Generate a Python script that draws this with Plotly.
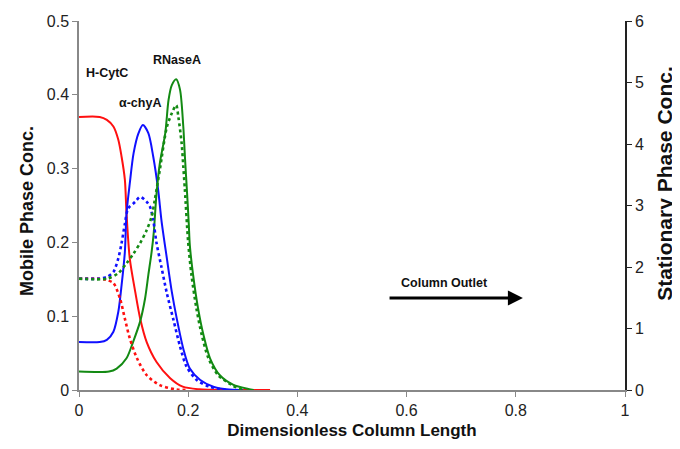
import plotly.graph_objects as go

# ---- data (left axis: mobile phase; right axis: stationary phase) ----
hcytc_mob_x = [0, 0.038, 0.051, 0.063, 0.072, 0.078, 0.084, 0.087, 0.093, 0.103, 0.112, 0.124, 0.142, 0.167, 0.19, 0.22, 0.27, 0.35]
hcytc_mob_y = [0.370, 0.370, 0.366, 0.357, 0.339, 0.316, 0.285, 0.240, 0.178, 0.133, 0.097, 0.065, 0.038, 0.016, 0.0045, 0.001, 0.0, 0.0]

chya_mob_x = [0, 0.038, 0.051, 0.063, 0.072, 0.078, 0.084, 0.087, 0.093, 0.100, 0.109, 0.117, 0.127, 0.136, 0.145, 0.151, 0.161, 0.170, 0.179, 0.191, 0.203, 0.222, 0.246, 0.27, 0.30]
chya_mob_y = [0.065, 0.065, 0.068, 0.079, 0.106, 0.142, 0.187, 0.239, 0.280, 0.321, 0.348, 0.359, 0.348, 0.316, 0.271, 0.230, 0.178, 0.133, 0.097, 0.056, 0.029, 0.0135, 0.0045, 0.001, 0.0]

rnase_mob_x = [0, 0.055, 0.069, 0.087, 0.099, 0.112, 0.121, 0.127, 0.133, 0.137, 0.142, 0.148, 0.158, 0.164, 0.170, 0.178, 0.185, 0.191, 0.194, 0.198, 0.201, 0.203, 0.209, 0.218, 0.228, 0.240, 0.258, 0.283, 0.31, 0.32]
rnase_mob_y = [0.025, 0.025, 0.029, 0.043, 0.065, 0.093, 0.124, 0.156, 0.187, 0.214, 0.266, 0.307, 0.348, 0.393, 0.413, 0.421, 0.407, 0.357, 0.316, 0.266, 0.226, 0.196, 0.156, 0.111, 0.0745, 0.043, 0.020, 0.007, 0.0015, 0.0]

hcytc_sta_x = [0, 0.038, 0.05, 0.063, 0.075, 0.084, 0.093, 0.106, 0.124, 0.148, 0.178, 0.2]
hcytc_sta_y = [1.81, 1.81, 1.79, 1.74, 1.49, 1.16, 0.84, 0.52, 0.24, 0.08, 0.01, 0.0]

chya_sta_x = [0, 0.035, 0.051, 0.063, 0.072, 0.078, 0.084, 0.090, 0.103, 0.112, 0.124, 0.130, 0.136, 0.142, 0.151, 0.161, 0.173, 0.185, 0.197, 0.216, 0.24, 0.27]
chya_sta_y = [1.81, 1.81, 1.84, 1.92, 2.14, 2.39, 2.70, 2.95, 3.06, 3.14, 3.06, 2.98, 2.76, 2.39, 2.00, 1.57, 1.14, 0.71, 0.38, 0.16, 0.05, 0.0]

rnase_sta_x = [0, 0.051, 0.072, 0.087, 0.100, 0.112, 0.124, 0.133, 0.139, 0.148, 0.161, 0.170, 0.178, 0.182, 0.188, 0.191, 0.194, 0.200, 0.206, 0.215, 0.225, 0.237, 0.255, 0.28, 0.30]
rnase_sta_y = [1.81, 1.81, 1.90, 2.06, 2.22, 2.39, 2.60, 2.82, 3.10, 3.58, 4.28, 4.50, 4.63, 4.44, 4.01, 3.64, 3.25, 2.40, 1.87, 1.33, 0.89, 0.52, 0.24, 0.08, 0.0]

x_ticks = [0, 0.2, 0.4, 0.6, 0.8, 1]
x_tick_labels = ["0", "0.2", "0.4", "0.6", "0.8", "1"]
y_ticks = [0, 0.1, 0.2, 0.3, 0.4, 0.5]
y_tick_labels = ["0", "0.1", "0.2", "0.3", "0.4", "0.5"]
y2_ticks = [0, 1, 2, 3, 4, 5, 6]

RED, BLUE, GREEN = "#ff1010", "#1010ff", "#138a13"

fig = go.Figure()

def add(x, y, color, dash, axis, name):
    fig.add_trace(go.Scatter(
        x=x, y=y, mode="lines", name=name, yaxis=axis,
        line=dict(color=color, width=2 if dash == "solid" else 2.6, dash=dash,
                  shape="spline", smoothing=0.8),
        showlegend=False))

add(hcytc_sta_x, hcytc_sta_y, RED, "dot", "y2", "H-CytC stationary")
add(chya_sta_x, chya_sta_y, BLUE, "dot", "y2", "α-chyA stationary")
add(rnase_sta_x, rnase_sta_y, GREEN, "dot", "y2", "RNaseA stationary")
add(hcytc_mob_x, hcytc_mob_y, RED, "solid", "y", "H-CytC mobile")
add(chya_mob_x, chya_mob_y, BLUE, "solid", "y", "α-chyA mobile")
add(rnase_mob_x, rnase_mob_y, GREEN, "solid", "y", "RNaseA mobile")

label_font = dict(family="Liberation Sans Narrow, Arial Narrow, Liberation Sans, Arial", size=12.5, color="#111")
for txt, xx, yy in [("H-CytC", 0.051, 0.430), ("α-chyA", 0.112, 0.389), ("RNaseA", 0.179, 0.447),
                    ("Column Outlet", 0.670, 0.145)]:
    fig.add_annotation(x=xx, y=yy, xref="x", yref="y", text="<b>" + txt + "</b>",
                       showarrow=False, font=label_font)

fig.add_annotation(x=0.813, y=0.1247, ax=0.566, ay=0.1247, xref="x", yref="y", axref="x", ayref="y",
                   text="", showarrow=True, arrowhead=2, arrowsize=1.0, arrowwidth=3, arrowcolor="#000")

# vertical axis titles placed as rotated text (paper coords relative to plot area)
fig.add_annotation(x=-0.0952, y=0.485, xref="paper", yref="paper",
                   text="<b>Mobile Phase Conc.</b>", textangle=-90, showarrow=False,
                   xanchor="center", yanchor="middle",
                   font=dict(size=18, family="Liberation Sans, Arial", color="#111"))
fig.add_annotation(x=1.073, y=0.561, xref="paper", yref="paper",
                   text="<b>Stationary Phase Conc.</b>", textangle=-90, showarrow=False,
                   xanchor="center", yanchor="middle",
                   font=dict(size=21, family="Liberation Sans, Arial", color="#111"))

tick_font = dict(family="Liberation Sans, Arial", size=16, color="#222")

fig.update_layout(
    width=672, height=441,
    margin=dict(l=71, r=55, t=13, b=59),
    paper_bgcolor="white", plot_bgcolor="white",
    font=tick_font,
    xaxis=dict(range=[0, 1], tickvals=x_ticks, ticktext=x_tick_labels, showgrid=False, zeroline=False,
               showline=True, linecolor="#888", linewidth=1.5, ticks="outside", ticklen=5, tickcolor="#888",
               tickfont=tick_font, automargin=False,
               title=dict(text="<b>Dimensionless Column Length</b>",
                          font=dict(size=17, family="Liberation Sans, Arial", color="#111"), standoff=6)),
    yaxis=dict(range=[0, 0.5], tickvals=y_ticks, ticktext=y_tick_labels, showgrid=False, zeroline=False,
               showline=True, linecolor="#888", linewidth=1.5, ticks="outside", ticklen=5, tickcolor="#888",
               tickfont=tick_font, automargin=False),
    yaxis2=dict(range=[0, 6], tickvals=y2_ticks, overlaying="y", side="right", showgrid=False, zeroline=False,
                showline=True, linecolor="#222", linewidth=1.5, ticks="outside", ticklen=5, tickcolor="#222",
                tickfont=tick_font, automargin=False),
)

fig.write_html("out.html")
